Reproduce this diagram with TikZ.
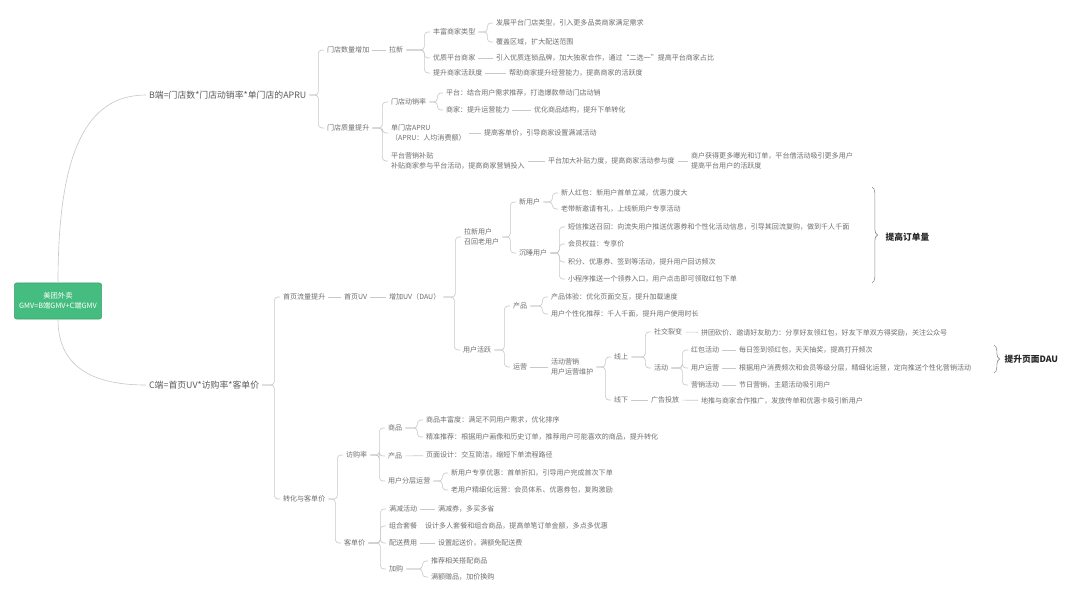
\documentclass[tikz,border=0pt]{standalone}
\usepackage{fontspec}
\setmainfont{Noto Sans CJK SC}
\usepackage{tikz}
\usetikzlibrary{decorations.pathreplacing}
\definecolor{rootgreen}{HTML}{45BC80}
\definecolor{linegray}{HTML}{C8C8C8}
\definecolor{textgray}{HTML}{6E6E6E}
\definecolor{headgray}{HTML}{5A5A5A}

\begin{document}
\begin{tikzpicture}[x=0.025cm, y=-0.025cm,
  item/.style={anchor=west, inner xsep=2pt, inner ysep=1pt, align=left, text=textgray, font=\fontsize{5}{7}\selectfont},
  head/.style={item, text=headgray, font=\fontsize{6.3}{7.5}\selectfont},
  tag/.style={anchor=west, inner sep=1pt, text=black!85, font=\fontsize{6.2}{7.5}\selectfont\bfseries},
  rootbox/.style={fill=rootgreen, draw=rootgreen!85!black, rounded corners=1.5pt, minimum width=2.175cm, minimum height=0.9cm, align=center, text=white, font=\fontsize{5.2}{7}\selectfont},
  link/.style={draw=linegray, line width=0.45pt, rounded corners=2.5pt},
  brace/.style={draw=linegray!70!black, line width=0.45pt, decorate, decoration={brace, amplitude=4pt}}
]
  \useasboundingbox (0,0) rectangle (1080,598);

  \node[rootbox] (root) at (58,301) {美团外卖\\GMV=B端GMV+C端GMV};
  \node[head] (bside) at (146,95) {B端=门店数*门店动销率*单门店的APRU};
  \node[head] (cside) at (146,385) {C端=首页UV*访购率*客单价};

  \node[item] (bnum) at (324,50) {门店数量增加};
  \node[item] (bnew) at (386,50) {拉新};
  \node[item] (btype) at (430,32) {丰富商家类型};
  \node[item] (btypea) at (493,23) {发展平台门店类型，引入更多品类商家满足需求};
  \node[item] (btypeb) at (493,42) {覆盖区域，扩大配送范围};
  \node[item] (bgood) at (430,58) {优质平台商家};
  \node[item] (bgooda) at (493,58) {引入优质连锁品牌，加大独家合作，通过“二选一”提高平台商家占比};
  \node[item] (bactive) at (430,73) {提升商家活跃度};
  \node[item] (bactivea) at (506,73) {帮助商家提升经营能力，提高商家的活跃度};

  \node[item] (bqual) at (324,128) {门店质量提升};
  \node[item] (bsale) at (388,102) {门店动销率};
  \node[item] (bsalea) at (443,93) {平台：结合用户需求推荐，打造爆款带动门店动销};
  \node[item] (bsaleb) at (443,110) {商家：提升运营能力};
  \node[item] (bsalec) at (531,110) {优化商品结构，提升下单转化};
  \node[item] (barpu) at (388,133) {单门店APRU\\（APRU：人均消费额）};
  \node[item] (barpua) at (481,133) {提高客单价，引导商家设置满减活动};
  \node[item] (bpromo) at (388,161) {平台营销补贴\\补贴商家参与平台活动，提高商家营销投入};
  \node[item] (bpromoa) at (545,161) {平台加大补贴力度，提高商家活动参与度};
  \node[item] (bpromob) at (688,161) {商户获得更多曝光和订单，平台借活动吸引更多用户\\提高平台用户的活跃度};

  \node[item] (ctraffic) at (280,297) {首页流量提升};
  \node[item] (cuv) at (341,297) {首页UV};
  \node[item] (cdau) at (386,297) {增加UV（DAU）};
  \node[item] (cgrow) at (461,237) {拉新用户\\召回老用户};
  \node[item] (cnew) at (516,202) {新用户};
  \node[item] (cnewa) at (558,193) {新人红包：新用户首单立减，优惠力度大};
  \node[item] (cnewb) at (558,209) {老带新邀请有礼，上线新用户专享活动};
  \node[item] (cold) at (516,253) {沉睡用户};
  \node[item] (colda) at (565,227) {短信推送召回：向流失用户推送优惠券和个性化活动信息，引导其回流复购，做到千人千面};
  \node[item] (coldb) at (565,244) {会员权益：专享价};
  \node[item] (coldc) at (565,262) {积分、优惠券、签到等活动，提升用户回访频次};
  \node[item] (coldd) at (565,279) {小程序推送一个领券入口，用户点击即可领取红包下单};
  \coordinate (ordertop) at (872,187);
  \coordinate (orderbot) at (872,283);
  \node[tag] (order) at (884,237) {提高订单量};

  \node[item] (cactive) at (460,350) {用户活跃};
  \node[item] (cprod) at (510,306) {产品};
  \node[item] (cproda) at (548,297) {产品体验：优化页面交互，提升加载速度};
  \node[item] (cprodb) at (548,314) {用户个性化推荐：千人千面，提升用户使用时长};
  \node[item] (cops) at (510,367) {运营};
  \node[item] (cevent) at (548,367) {活动营销\\用户运营维护};
  \node[item] (conline) at (611,357) {线上};
  \node[item] (csocial) at (651,332) {社交裂变};
  \node[item] (csociala) at (698,333) {拼团砍价、邀请好友助力：分享好友领红包，好友下单双方得奖励，关注公众号};
  \node[item] (cact) at (651,368) {活动};
  \node[item] (cred) at (688,350) {红包活动};
  \node[item] (creda) at (736,350) {每日签到领红包，天天抽奖，提高打开频次};
  \node[item] (cuser) at (688,368) {用户运营};
  \node[item] (cusera) at (736,368) {根据用户消费频次和会员等级分层，精细化运营，定向推送个性化营销活动};
  \node[item] (cmkt) at (688,385) {营销活动};
  \node[item] (cmkta) at (736,385) {节日营销，主题活动吸引用户};
  \coordinate (dautop) at (994,345);
  \coordinate (daubot) at (994,373);
  \node[tag] (dau) at (1003,359) {提升页面DAU};
  \node[item] (coffline) at (611,400) {线下};
  \node[item] (cad) at (648,400) {广告投放};
  \node[item] (cada) at (698,401) {地推与商家合作推广，发放传单和优惠卡吸引新用户};

  \node[item] (cconv) at (280,499) {转化与客单价};
  \node[item] (crate) at (343,455) {访购率};
  \node[item] (cgoods) at (385,428) {商品};
  \node[item] (cgoodsa) at (423,420) {商品丰富度：满足不同用户需求，优化排序};
  \node[item] (cgoodsb) at (423,437) {精准推荐：根据用户画像和历史订单，推荐用户可能喜欢的商品，提升转化};
  \node[item] (cpage) at (385,456) {产品};
  \node[item] (cpagea) at (423,455) {页面设计：交互简洁，缩短下单流程路径};
  \node[item] (clayer) at (385,481) {用户分层运营};
  \node[item] (clayera) at (448,473) {新用户专享优惠：首单折扣，引导用户完成首次下单};
  \node[item] (clayerb) at (448,490) {老用户精细化运营：会员体系、优惠券包，复购激励};
  \node[item] (cbasket) at (341,543) {客单价};
  \node[item] (cfull) at (386,509) {满减活动};
  \node[item] (cfulla) at (435,509) {满减券，多买多省};
  \node[item] (ccombo) at (386,526) {组合套餐};
  \node[item] (ccomboa) at (422,526) {设计多人套餐和组合商品，提高单笔订单金额，多点多优惠};
  \node[item] (cfee) at (386,543) {配送费用};
  \node[item] (cfeea) at (435,543) {设置起送价，满额免配送费};
  \node[item] (cadd) at (386,569) {加购};
  \node[item] (cadda) at (428,561) {推荐相关搭配商品};
  \node[item] (caddb) at (428,577) {满额赠品，加价换购};

  \draw[link] (root.north) .. controls +(0,-130) and +(-60,0) .. (bside.west);
  \draw[link] (root.south) .. controls +(0,50) and +(-50,0) .. (cside.west);

  \draw[link] (bside.east) -| ([xshift=-4pt]bnum.west) -- (bnum.west);
  \draw[link] (bside.east) -| ([xshift=-4pt]bqual.west) -- (bqual.west);
  \draw[link] (bnum) -- (bnew);
  \draw[link] (bnew.east) -| ([xshift=-4pt]btype.west) -- (btype.west);
  \draw[link] (bnew.east) -| ([xshift=-4pt]bgood.west) -- (bgood.west);
  \draw[link] (bnew.east) -| ([xshift=-4pt]bactive.west) -- (bactive.west);
  \draw[link] (btype.east) -| ([xshift=-4pt]btypea.west) -- (btypea.west);
  \draw[link] (btype.east) -| ([xshift=-4pt]btypeb.west) -- (btypeb.west);
  \draw[link] (bgood) -- (bgooda);
  \draw[link] (bactive) -- (bactivea);
  \draw[link] (bqual.east) -| ([xshift=-4pt]bsale.west) -- (bsale.west);
  \draw[link] (bqual.east) -| ([xshift=-4pt]barpu.west) -- (barpu.west);
  \draw[link] (bqual.east) -| ([xshift=-4pt]bpromo.west) -- (bpromo.west);
  \draw[link] (bsale.east) -| ([xshift=-4pt]bsalea.west) -- (bsalea.west);
  \draw[link] (bsale.east) -| ([xshift=-4pt]bsaleb.west) -- (bsaleb.west);
  \draw[link] (bsaleb) -- (bsalec);
  \draw[link] (barpu) -- (barpua);
  \draw[link] (bpromo) -- (bpromoa);
  \draw[link] (bpromoa) -- (bpromob);

  \draw[link] (cside.east) -| ([xshift=-4pt]ctraffic.west) -- (ctraffic.west);
  \draw[link] (cside.east) -| ([xshift=-4pt]cconv.west) -- (cconv.west);
  \draw[link] (ctraffic) -- (cuv);
  \draw[link] (cuv) -- (cdau);
  \draw[link] (cdau.east) -| ([xshift=-4pt]cgrow.west) -- (cgrow.west);
  \draw[link] (cdau.east) -| ([xshift=-4pt]cactive.west) -- (cactive.west);
  \draw[link] (cgrow.east) -| ([xshift=-4pt]cnew.west) -- (cnew.west);
  \draw[link] (cgrow.east) -| ([xshift=-4pt]cold.west) -- (cold.west);
  \draw[link] (cnew.east) -| ([xshift=-4pt]cnewa.west) -- (cnewa.west);
  \draw[link] (cnew.east) -| ([xshift=-4pt]cnewb.west) -- (cnewb.west);
  \draw[link] (cold.east) -| ([xshift=-4pt]colda.west) -- (colda.west);
  \draw[link] (cold.east) -| ([xshift=-4pt]coldb.west) -- (coldb.west);
  \draw[link] (cold.east) -| ([xshift=-4pt]coldc.west) -- (coldc.west);
  \draw[link] (cold.east) -| ([xshift=-4pt]coldd.west) -- (coldd.west);
  \draw[brace] (ordertop) -- (orderbot);
  \draw[link] (cactive.east) -| ([xshift=-4pt]cprod.west) -- (cprod.west);
  \draw[link] (cactive.east) -| ([xshift=-4pt]cops.west) -- (cops.west);
  \draw[link] (cprod.east) -| ([xshift=-4pt]cproda.west) -- (cproda.west);
  \draw[link] (cprod.east) -| ([xshift=-4pt]cprodb.west) -- (cprodb.west);
  \draw[link] (cops) -- (cevent);
  \draw[link] (cevent.east) -| ([xshift=-4pt]conline.west) -- (conline.west);
  \draw[link] (cevent.east) -| ([xshift=-4pt]coffline.west) -- (coffline.west);
  \draw[link] (conline.east) -| ([xshift=-4pt]csocial.west) -- (csocial.west);
  \draw[link] (conline.east) -| ([xshift=-4pt]cact.west) -- (cact.west);
  \draw[link] (csocial) -- (csociala);
  \draw[link] (cact.east) -| ([xshift=-4pt]cred.west) -- (cred.west);
  \draw[link] (cact.east) -| ([xshift=-4pt]cuser.west) -- (cuser.west);
  \draw[link] (cact.east) -| ([xshift=-4pt]cmkt.west) -- (cmkt.west);
  \draw[link] (cred) -- (creda);
  \draw[link] (cuser) -- (cusera);
  \draw[link] (cmkt) -- (cmkta);
  \draw[brace] (dautop) -- (daubot);
  \draw[link] (coffline) -- (cad);
  \draw[link] (cad) -- (cada);

  \draw[link] (cconv.east) -| ([xshift=-4pt]crate.west) -- (crate.west);
  \draw[link] (cconv.east) -| ([xshift=-4pt]cbasket.west) -- (cbasket.west);
  \draw[link] (crate.east) -| ([xshift=-4pt]cgoods.west) -- (cgoods.west);
  \draw[link] (crate.east) -| ([xshift=-4pt]cpage.west) -- (cpage.west);
  \draw[link] (crate.east) -| ([xshift=-4pt]clayer.west) -- (clayer.west);
  \draw[link] (cgoods.east) -| ([xshift=-4pt]cgoodsa.west) -- (cgoodsa.west);
  \draw[link] (cgoods.east) -| ([xshift=-4pt]cgoodsb.west) -- (cgoodsb.west);
  \draw[link] (cpage) -- (cpagea);
  \draw[link] (clayer.east) -| ([xshift=-4pt]clayera.west) -- (clayera.west);
  \draw[link] (clayer.east) -| ([xshift=-4pt]clayerb.west) -- (clayerb.west);
  \draw[link] (cbasket.east) -| ([xshift=-4pt]cfull.west) -- (cfull.west);
  \draw[link] (cbasket.east) -| ([xshift=-4pt]ccombo.west) -- (ccombo.west);
  \draw[link] (cbasket.east) -| ([xshift=-4pt]cfee.west) -- (cfee.west);
  \draw[link] (cbasket.east) -| ([xshift=-4pt]cadd.west) -- (cadd.west);
  \draw[link] (cfull) -- (cfulla);
  \draw[link] (cfee) -- (cfeea);
  \draw[link] (cadd.east) -| ([xshift=-4pt]cadda.west) -- (cadda.west);
  \draw[link] (cadd.east) -| ([xshift=-4pt]caddb.west) -- (caddb.west);
\end{tikzpicture}
\end{document}
